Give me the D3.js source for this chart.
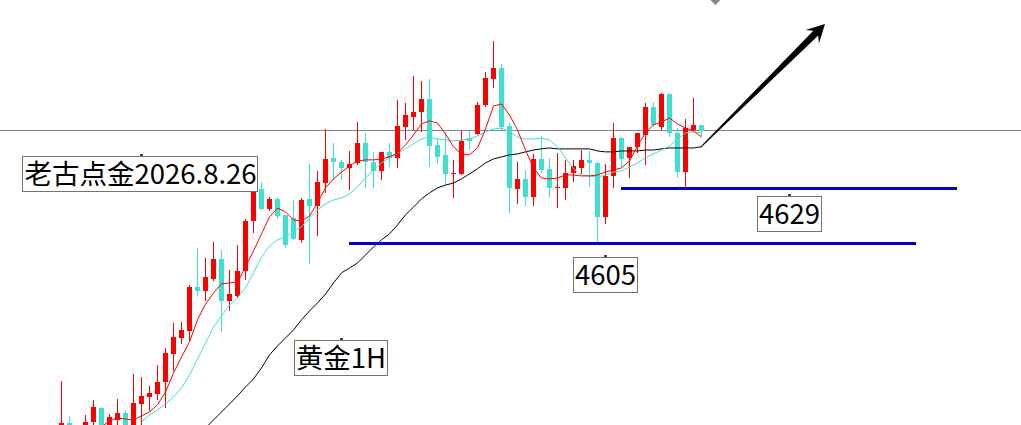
<!DOCTYPE html>
<html>
<head>
<meta charset="utf-8">
<script src="https://cdn.jsdelivr.net/npm/d3@7"></script>
<style>
  html, body { margin: 0; padding: 0; background: #fff; overflow: hidden; }
  svg { display: block; }
</style>
</head>
<body>
<div id="chart"></div>
<script>
const width = 1021;
const height = 425;

// gold 1H candles, left to right
const open = [4523.6, 4526.6, 4520.9, 4524.4, 4527.0, 4533.2, 4524.4, 4527.9, 4531.0, 4524.4,
  4534.9, 4538.0, 4539.3, 4544.5, 4556.7, 4563.7, 4566.8, 4586.0, 4584.2, 4589.4,
  4598.2, 4579.8, 4582.0, 4592.9, 4614.8, 4628.7, 4620.0, 4624.4, 4617.4, 4616.1,
  4606.5, 4624.4, 4621.3, 4631.3, 4642.3, 4640.5, 4637.9, 4640.1, 4648.8, 4640.5,
  4636.6, 4644.9, 4642.3, 4655.8, 4660.2, 4662.3, 4668.0, 4647.9, 4643.6, 4635.3,
  4635.3, 4651.0, 4652.7, 4665.4, 4676.7, 4681.5, 4656.2, 4628.7, 4633.1, 4625.2,
  4641.8, 4637.5, 4629.2, 4629.2, 4635.7, 4637.9, 4641.4, 4640.1, 4616.5, 4634.4,
  4651.0, 4642.3, 4647.1, 4652.3, 4664.5, 4655.8, 4670.2, 4653.2, 4636.1, 4654.5,
  4656.7];
const high = [4544.9, 4529.7, 4524.4, 4530.1, 4536.6, 4533.6, 4530.5, 4537.1, 4532.3, 4548.0,
  4546.7, 4542.8, 4551.9, 4559.3, 4570.2, 4570.7, 4586.8, 4603.0, 4598.6, 4605.6,
  4602.1, 4593.4, 4604.3, 4615.6, 4628.7, 4631.8, 4625.2, 4625.2, 4617.4, 4623.9,
  4624.8, 4639.6, 4636.6, 4654.9, 4648.8, 4641.4, 4645.3, 4658.0, 4653.2, 4644.9,
  4644.9, 4648.8, 4667.6, 4666.3, 4678.0, 4675.9, 4676.7, 4651.0, 4653.6, 4641.4,
  4654.0, 4654.5, 4666.7, 4679.8, 4693.3, 4683.3, 4657.5, 4640.5, 4637.0, 4644.0,
  4651.9, 4642.3, 4644.4, 4641.4, 4641.4, 4645.7, 4645.3, 4640.5, 4639.6, 4657.5,
  4651.4, 4647.1, 4653.2, 4666.3, 4666.7, 4670.6, 4670.6, 4655.3, 4659.3, 4668.4,
  4656.7];
const low = [4519.2, 4521.4, 4519.2, 4522.7, 4524.4, 4521.4, 4522.7, 4524.4, 4522.7, 4522.7,
  4524.4, 4531.8, 4536.6, 4533.2, 4549.3, 4561.1, 4562.4, 4582.0, 4579.8, 4588.6,
  4566.3, 4575.5, 4581.2, 4589.0, 4609.5, 4619.6, 4619.1, 4615.6, 4603.0, 4606.5,
  4605.2, 4596.0, 4608.2, 4627.0, 4632.7, 4632.7, 4628.3, 4639.2, 4629.2, 4629.2,
  4632.7, 4638.3, 4637.9, 4650.1, 4654.5, 4653.6, 4638.3, 4639.6, 4630.5, 4624.8,
  4634.8, 4645.7, 4652.3, 4664.5, 4672.8, 4654.5, 4618.3, 4622.2, 4621.3, 4621.3,
  4635.7, 4625.2, 4620.4, 4623.9, 4631.8, 4635.3, 4629.6, 4605.6, 4613.4, 4629.2,
  4638.3, 4633.5, 4644.4, 4639.2, 4655.8, 4654.5, 4651.4, 4633.5, 4629.2, 4654.0,
  4651.9];
const close = [4526.6, 4523.6, 4523.6, 4527.0, 4533.6, 4523.6, 4529.2, 4531.0, 4524.4, 4535.3,
  4538.4, 4539.7, 4544.5, 4557.2, 4564.1, 4567.2, 4586.0, 4584.2, 4590.3, 4598.2,
  4579.8, 4582.9, 4592.9, 4614.8, 4628.7, 4620.0, 4624.4, 4616.9, 4604.3, 4606.9,
  4623.9, 4621.3, 4631.8, 4641.8, 4640.5, 4637.9, 4639.6, 4648.8, 4640.5, 4636.6,
  4644.9, 4642.3, 4656.2, 4661.0, 4662.3, 4668.0, 4647.5, 4642.7, 4635.3, 4635.7,
  4649.7, 4649.7, 4665.4, 4677.2, 4681.5, 4655.8, 4629.2, 4633.1, 4625.2, 4641.8,
  4637.0, 4629.2, 4629.6, 4635.7, 4638.8, 4641.4, 4640.1, 4616.5, 4634.4, 4651.0,
  4641.8, 4647.1, 4653.2, 4664.5, 4656.7, 4670.2, 4653.2, 4636.1, 4655.3, 4656.7,
  4654.0];

// moving averages (null = not drawn)
const maFast = [null, null, null, null, null,
  4524.9, 4527.5, 4528.8, 4528.3, 4527.9, 4529.7, 4531.4, 4534.5, 4540.1, 4548.4,
  4555.4, 4562.0, 4571.6, 4578.5, 4583.3, 4587.3, 4587.7, 4588.1, 4594.7, 4601.7,
  4609.1, 4616.5, 4620.4, 4618.7, 4615.2, 4614.8, 4616.9, 4622.6, 4629.2, 4633.1,
  4636.1, 4638.8, 4640.9, 4641.4, 4641.4, 4641.8, 4642.7, 4644.4, 4647.9, 4652.3,
  4657.1, 4658.4, 4657.5, 4652.7, 4647.1, 4644.0, 4643.6, 4646.6, 4654.9, 4664.9,
  4665.8, 4661.0, 4654.5, 4645.7, 4637.9, 4633.5, 4633.1, 4633.5, 4634.8, 4634.8,
  4634.4, 4634.4, 4634.8, 4636.1, 4637.0, 4637.9, 4640.9, 4647.5, 4653.2, 4656.7,
  4657.9, 4659.7, 4657.1, 4655.3, 4654.0, 4651.4];
const maMid = [null, null, null, null, null, null, null, null, null, null,
  4527.0, 4530.1, 4532.3, 4534.9, 4537.9, 4541.9, 4547.5, 4554.5, 4561.5, 4568.5,
  4573.3, 4578.1, 4581.2, 4585.5, 4592.1, 4599.0, 4603.8, 4606.5, 4607.8, 4610.0,
  4612.2, 4616.1, 4619.6, 4622.2, 4623.9, 4624.8, 4626.5, 4629.6, 4633.5, 4637.0,
  4640.1, 4642.3, 4644.4, 4646.2, 4648.4, 4650.5, 4651.4, 4650.5, 4650.1, 4649.7,
  4650.1, 4650.5, 4651.9, 4653.6, 4654.9, 4655.3, 4653.6, 4651.4, 4650.5, 4650.5,
  4651.0, 4650.1, 4647.1, 4642.3, 4637.5, 4634.8, 4634.4, 4633.9, 4634.8, 4636.1,
  4636.6, 4638.3, 4640.1, 4642.3, 4644.0, 4645.7, 4647.5, 4650.5, 4653.2, 4653.6,
  4653.2];
const maSlow = [null, null, null, null, null, null, null, null, null, null,
  null, null, null, null, null, null, null, null, 4524.4, 4527.9,
  4531.4, 4534.9, 4538.4, 4542.3, 4545.8, 4550.6, 4556.3, 4560.2, 4563.7, 4567.2,
  4571.6, 4575.5, 4579.0, 4582.9, 4587.7, 4592.1, 4594.2, 4596.4, 4599.9, 4603.4,
  4606.5, 4609.1, 4613.0, 4617.4, 4620.8, 4624.4, 4627.0, 4629.2, 4630.4, 4631.3,
  4633.1, 4635.3, 4637.5, 4640.1, 4641.8, 4642.7, 4643.6, 4644.0, 4644.9, 4645.7,
  4646.2, 4646.6, 4646.2, 4646.2, 4646.2, 4646.2, 4646.2, 4645.3, 4644.9, 4644.9,
  4645.3, 4645.3, 4645.3, 4645.7, 4645.7, 4646.2, 4646.6, 4646.6, 4646.6, 4646.6,
  4647.1];

// support levels and the bar range each line covers
const levels = [4605, 4629];
const levelFrom = [36, 70];
const levelTo = [106.9, 112];
const refPrice = 4654.5;

const labelTexts = ["老古点金2026.8.26", "黄金1H", "4605", "4629"];
const labelBars = [9.94, 34.98, 68.06, 91.06];
const labelPrices = [4643.1, 4563.0, 4599.0, 4625.5];

const upColor = "#ff0000";
const downColor = "#40e0d0";

const x = d3.scaleLinear().domain([0, 80]).range([61, 701]);
const y = d3.scaleLinear().domain([4605, 4629]).range([243.3, 188.3]);

const svg = d3
  .select("#chart")
  .append("svg")
  .attr("width", width)
  .attr("height", height);

// reference price line
svg
  .append("line")
  .attr("x1", 0)
  .attr("x2", width)
  .attr("y1", Math.round(y(refPrice)) + 0.5)
  .attr("y2", Math.round(y(refPrice)) + 0.5)
  .attr("stroke", "#7a8898")
  .attr("stroke-width", 1);

// small marker at top edge
const mx = x(81.8);
svg
  .append("path")
  .attr("d", `M${mx - 5},0L${mx + 5},0L${mx},5Z`)
  .attr("fill", "#7a8898");

// candles
const bars = d3.range(open.length).map((i) => ({
  i,
  o: open[i],
  h: high[i],
  l: low[i],
  c: close[i],
}));

const candle = svg
  .append("g")
  .attr("shape-rendering", "crispEdges")
  .selectAll("g")
  .data(bars)
  .enter()
  .append("g")
  .attr("fill", (d) => (d.c >= d.o ? upColor : downColor));

candle
  .append("rect")
  .attr("x", (d) => Math.round(x(d.i)))
  .attr("width", 1)
  .attr("y", (d) => Math.round(y(d.h)))
  .attr("height", (d) => Math.max(1, Math.round(y(d.l)) - Math.round(y(d.h))));

candle
  .append("rect")
  .attr("x", (d) => Math.round(x(d.i)) - 2)
  .attr("width", 5)
  .attr("y", (d) => Math.round(y(Math.max(d.o, d.c))))
  .attr("height", (d) =>
    Math.max(1, Math.round(y(Math.min(d.o, d.c))) - Math.round(y(Math.max(d.o, d.c))))
  );

// moving averages
const line = d3
  .line()
  .defined((d) => d != null)
  .x((d, i) => x(i) + 0.5)
  .y((d) => y(d));

[
  [maSlow, "#000000"],
  [maMid, downColor],
  [maFast, upColor],
].forEach(([series, color]) => {
  svg
    .append("path")
    .attr("d", line(series))
    .attr("fill", "none")
    .attr("stroke", color)
    .attr("stroke-width", 1);
});

// support lines
svg
  .append("g")
  .attr("shape-rendering", "crispEdges")
  .selectAll("line")
  .data(levels)
  .enter()
  .append("line")
  .attr("x1", (d, i) => x(levelFrom[i]))
  .attr("x2", (d, i) => x(levelTo[i]))
  .attr("y1", (d) => y(d))
  .attr("y2", (d) => y(d))
  .attr("stroke", "#0000c8")
  .attr("stroke-width", 3);

// arrow from the last bar
const start = [x(80), y(maSlow[80])];
const tip = [x(95.5), y(4700.7)];
const dx = tip[0] - start[0];
const dy = tip[1] - start[1];
const len = Math.hypot(dx, dy);
const ux = dx / len, uy = dy / len;
const nx = -uy, ny = ux;
const at = (dist, off) => [start[0] + ux * dist + nx * off, start[1] + uy * dist + ny * off];
const arrowPts = [
  at(0, 0.5),
  at(len - 13, 3.5),
  at(len - 18, 9.5),
  tip,
  at(len - 18, -9.5),
  at(len - 13, -3.5),
  at(0, -0.5),
];
svg
  .append("path")
  .attr("d", "M" + arrowPts.map((p) => p.join(",")).join("L") + "Z")
  .attr("fill", "#000");

// text labels
labelTexts.forEach((txt, k) => {
  const cx = x(labelBars[k]);
  const top = Math.round(y(labelPrices[k]));
  const g = svg.append("g");
  const box = g.append("rect");
  const t = g
    .append("text")
    .attr("x", cx)
    .attr("y", top + 27.5)
    .attr("text-anchor", "middle")
    .attr("font-family", "'Noto Sans CJK SC', 'Noto Sans', sans-serif")
    .attr("font-size", 27.5)
    .attr("fill", "#000")
    .text(txt);
  const w = t.node().getComputedTextLength();
  box
    .attr("x", Math.round(cx - w / 2 - 2) + 0.5)
    .attr("y", top + 0.5)
    .attr("width", Math.round(w + 3))
    .attr("height", 35)
    .attr("fill", "#fff")
    .attr("stroke", "#7b7266")
    .attr("stroke-width", 1);
  g.append("rect")
    .attr("x", Math.round(cx) - 1)
    .attr("y", top - 2)
    .attr("width", 3)
    .attr("height", 2)
    .attr("fill", "#444");
});
</script>
</body>
</html>
